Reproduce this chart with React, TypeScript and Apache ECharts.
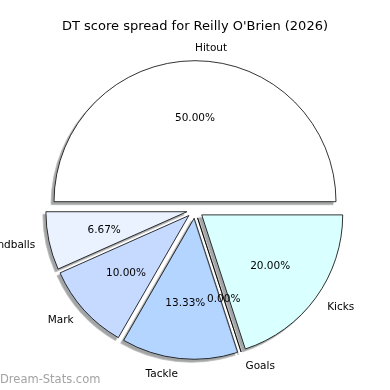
import React, { useEffect, useRef } from 'react';
import * as echarts from 'echarts';

const categories = ['Hitout', 'Handballs', 'Mark', 'Tackle', 'Goals', 'Kicks'];
const values = [15, 2, 3, 4, 0, 6];
const sliceColors = ['#ffffff', '#eaf1ff', '#c6d9ff', '#b4d5ff', '#a8ccff', '#d9ffff'];
const titleText = "DT score spread for Reilly O'Brien (2026)";
const watermarkText = 'Dream-Stats.com';

const CX = 195;
const CY = 210;
const R = 141;
const OFFSET = 8.3;
const FONT = 'DejaVu Sans';

export default function App() {
  const ref = useRef<HTMLDivElement>(null);
  useEffect(() => {
    const chart = echarts.init(ref.current!, null, { renderer: 'svg' });

    const mainData = categories.map((name, i) => ({
      name,
      value: values[i],
      selected: true,
      itemStyle: { color: sliceColors[i] },
    }));
    const labelData = categories.map((name, i) => ({ name, value: values[i], selected: true }));

    const base: any = {
      type: 'pie',
      center: [CX, CY],
      clockwise: false,
      startAngle: 0,
      selectedMode: 'multiple',
      selectedOffset: OFFSET,
      avoidLabelOverlap: false,
      minAngle: 0,
      labelLine: { show: false },
      emphasis: { disabled: true },
    };

    const labelStyle = { color: '#000', fontSize: 10.5, fontFamily: FONT };

    chart.setOption({
      animation: false,
      title: {
        text: titleText,
        left: 'center',
        top: 18,
        padding: 0,
        textStyle: { fontSize: 13, fontWeight: 'normal', color: '#000', fontFamily: FONT, lineHeight: 15 },
      },
      graphic: [
        {
          type: 'text',
          left: 0,
          top: 373,
          style: { text: watermarkText, fill: '#a3a3a3', fontSize: 11.5, fontFamily: FONT },
        },
      ],
      series: [
        {
          ...base,
          radius: R,
          label: { show: false },
          itemStyle: {
            borderColor: '#000',
            borderWidth: 0.8,
            shadowColor: 'rgba(70,76,77,0.5)',
            shadowBlur: 0,
            shadowOffsetX: -2.8,
            shadowOffsetY: 2.8,
          },
          select: { itemStyle: { borderColor: '#000', borderWidth: 0.8 } },
          data: mainData,
        },
        {
          ...base,
          silent: true,
          radius: [0.6 * R - 4, 0.6 * R - 2],
          itemStyle: { color: 'rgba(0,0,0,0)', borderWidth: 0 },
          select: { itemStyle: { color: 'rgba(0,0,0,0)', borderWidth: 0 } },
          label: {
            show: true,
            position: 'inside',
            ...labelStyle,
            formatter: (p: any) => Number(p.percent).toFixed(2) + '%',
          },
          labelLayout: (p: any) => {
            const r = p.labelRect;
            return {
              x: r.x + r.width / 2,
              y: r.y + r.height / 2,
              align: 'center',
              verticalAlign: 'middle',
              hideOverlap: false,
            };
          },
          data: labelData,
        },
        {
          ...base,
          silent: true,
          radius: [1.1 * R - 4, 1.1 * R - 2],
          itemStyle: { color: 'rgba(0,0,0,0)', borderWidth: 0 },
          select: { itemStyle: { color: 'rgba(0,0,0,0)', borderWidth: 0 } },
          label: {
            show: true,
            position: 'inside',
            ...labelStyle,
            formatter: '{b}',
          },
          labelLayout: (p: any) => {
            const r = p.labelRect;
            const x = r.x + r.width / 2;
            const y = r.y + r.height / 2;
            return { x, y, align: x > CX - 2 ? 'left' : 'right', verticalAlign: 'middle' };
          },
          data: labelData,
        },
      ],
    });
    return () => chart.dispose();
  }, []);
  return <div ref={ref} style={{ position: 'fixed', left: 0, top: 0, width: 390, height: 390 }} />;
}
